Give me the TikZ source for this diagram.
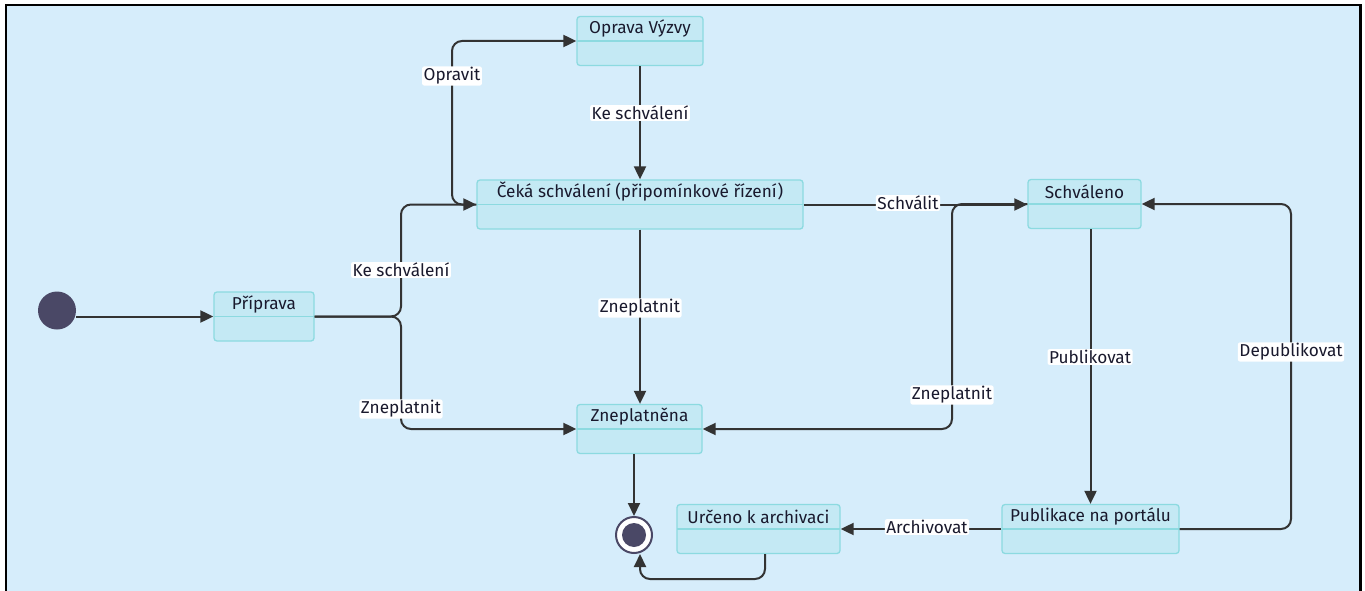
\documentclass[tikz,border=0pt]{standalone}
\usepackage{fontspec}
\setmainfont{Fira Sans}
\usetikzlibrary{arrows.meta}
\definecolor{bg}{RGB}{214,237,251}
\definecolor{boxfill}{RGB}{196,233,244}
\definecolor{boxline}{RGB}{140,218,224}
\definecolor{edgec}{RGB}{51,51,51}
\definecolor{dot}{RGB}{74,72,102}
\definecolor{txt}{RGB}{25,25,45}
\begin{document}
\begin{tikzpicture}[x=1pt,y=-1pt,
  stbox/.style={draw=boxline, fill=boxfill, line width=1.3pt, rounded corners=3pt,
    inner sep=0pt, minimum height=49pt,
    path picture={\draw[boxline, line width=1.3pt] (path picture bounding box.west) -- (path picture bounding box.east);}},
  sttext/.style={font=\fontsize{17.2}{19}\selectfont, text=txt, inner sep=0pt, yshift=12.5pt},
  conn/.style={draw=edgec, line width=2pt, rounded corners=10pt, -{Triangle[length=13pt,width=12pt]}},
  lbl/.style={fill=white, rounded corners=2pt, inner xsep=1.5pt, inner ysep=1pt, font=\fontsize{17.2}{19}\selectfont, text=txt}
]
\useasboundingbox (0,0) rectangle (1365,591);
\fill[white] (0,0) rectangle (1365,591);
\fill[bg] (6,5) rectangle (1360.5,591);
\draw[black, line width=2.5pt] (6,591) -- (6,5) -- (1360.5,5) -- (1360.5,591);

% states
\node[circle, fill=dot, minimum size=38pt, inner sep=0pt] (start) at (57,310.5) {};
\node[stbox, minimum width=100pt, label={[sttext]center:Příprava}] (prip) at (264,316.5) {};
\node[stbox, minimum width=126pt, label={[sttext]center:Oprava Výzvy}] (oprava) at (640,41) {};
\node[stbox, minimum width=326pt, label={[sttext]center:Čeká schválení (připomínkové řízení)}] (ceka) at (640,204.5) {};
\node[stbox, minimum width=113pt, label={[sttext]center:Schváleno}] (schv) at (1084.5,204) {};
\node[stbox, minimum width=125pt, label={[sttext]center:Zneplatněna}] (znep) at (639.5,429) {};
\node[stbox, minimum width=163pt, label={[sttext]center:Určeno k archivaci}] (urc) at (758.5,529) {};
\node[stbox, minimum width=177pt, label={[sttext]center:Publikace na portálu}] (publ) at (1090.5,529) {};
\node[circle, draw=dot, line width=2pt, fill=white, minimum size=36pt, inner sep=0pt] (end) at (634,535) {};
\node[circle, fill=dot, minimum size=24pt, inner sep=0pt] (endin) at (end) {};

% connectors
\draw[conn] (start.east |- prip.west) -- (prip.west);
\draw[conn] (prip.east) -- (401,316.5) -- (401,204.5) -- (ceka.west);
\draw[conn] (prip.east) -- (401,316.5) -- (401,429) -- (znep.west);
\draw[conn] (ceka.west) -- (452,204.5) -- (452,41) -- (oprava.west);
\draw[conn] (oprava.south) -- (ceka.north);
\draw[conn] (ceka.east) -- (schv.west |- ceka.east);
\draw[conn] (ceka.south) -- (ceka.south |- znep.north);
\draw[conn] (schv.west) -- (952,204) -- (952,429) -- (znep.east);
\draw[conn] (publ.north |- schv.south) -- (publ.north);
\draw[conn] (publ.east) -- (1291,529) -- (1291,204) -- (schv.east);
\draw[conn] (publ.west) -- (urc.east);
\draw[conn] (end.north |- znep.south) -- (end.north);
\draw[conn] ([xshift=6.5pt]urc.south) -- (765,579) -- (640,579) -- ([xshift=6pt]end.south);

% connector labels
\node[lbl] (l1) at (401,270) {Ke schválení};
\node[lbl] (l2) at (401,409) {Zneplatnit};
\node[lbl] (l3) at (452,76) {Opravit};
\node[lbl] (l4) at (640,113) {Ke schválení};
\node[lbl] (l5) at (908,203) {Schválit};
\node[lbl] (l6) at (640,308) {Zneplatnit};
\node[lbl] (l7) at (952,395) {Zneplatnit};
\node[lbl] (l8) at (1090,357) {Publikovat};
\node[lbl] (l9) at (1291,352) {Depublikovat};
\node[lbl] (l10) at (927,527) {Archivovat};
\end{tikzpicture}
\end{document}
